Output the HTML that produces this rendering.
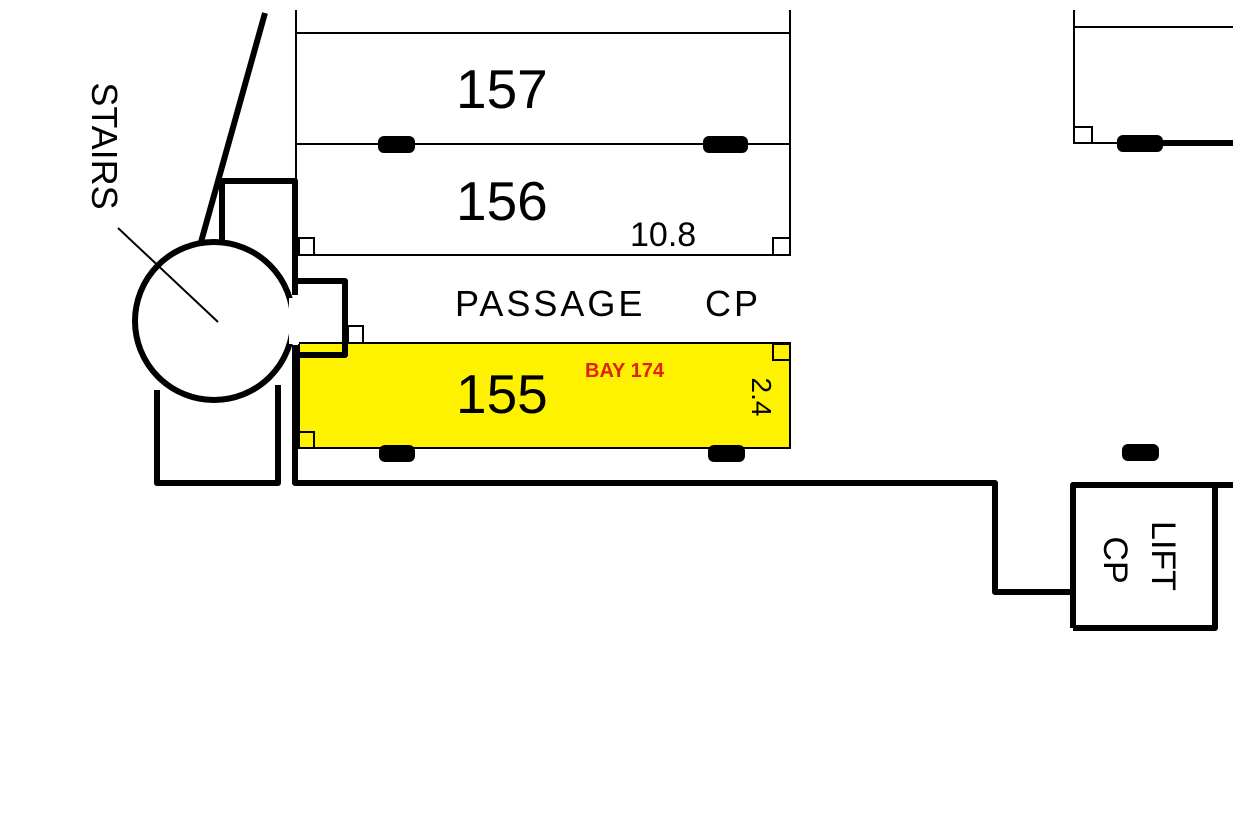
<!DOCTYPE html>
<html><head><meta charset="utf-8"><style>
html,body{margin:0;padding:0;background:#fff;}
svg{display:block;}
text{font-family:"Liberation Sans",sans-serif;}
</style></head><body>
<svg width="1233" height="829" viewBox="0 0 1233 829" xmlns="http://www.w3.org/2000/svg">
<rect width="1233" height="829" fill="#fff"/>
<!-- yellow bay -->
<rect x="299" y="343" width="491" height="105" fill="#fff200" stroke="#000" stroke-width="2"/>
<!-- thin bay lines -->
<g stroke="#000" stroke-width="2" fill="none">
<line x1="296" y1="10" x2="296" y2="256"/>
<line x1="790" y1="10" x2="790" y2="256"/>
<line x1="296" y1="33" x2="790" y2="33"/>
<line x1="296" y1="144" x2="790" y2="144"/>
<line x1="296" y1="255" x2="790" y2="255"/>
<rect x="299" y="238" width="15" height="17"/>
<rect x="773" y="238" width="17" height="17"/>
<rect x="348" y="326" width="15" height="17"/>
<rect x="773" y="344" width="17" height="16"/>
<rect x="299" y="432" width="15" height="16"/>
<line x1="1074" y1="10" x2="1074" y2="143"/>
<line x1="1074" y1="27" x2="1233" y2="27"/>
<rect x="1074" y="127" width="18" height="16"/>
<line x1="1092" y1="143" x2="1120" y2="143"/>
</g>
<!-- marks -->
<g fill="#000">
<rect x="378" y="136" width="37" height="17" rx="6"/>
<rect x="703" y="136" width="45" height="17" rx="6"/>
<rect x="379" y="445" width="36" height="17" rx="6"/>
<rect x="708" y="445" width="37" height="17" rx="6"/>
<rect x="1117" y="135" width="46" height="17" rx="6"/>
<rect x="1122" y="444" width="37" height="17" rx="6"/>
</g>
<!-- thick walls -->
<g stroke="#000" stroke-width="6" fill="none" stroke-linejoin="round">
<line x1="1160" y1="143" x2="1233" y2="143"/>
<line x1="265" y1="13" x2="201" y2="242"/>
<polyline points="222,242 222,181 295,181 295,295"/>
<polyline points="295,345 295,483 995,483 995,592 1073,592"/>
<circle cx="214" cy="321" r="79"/>
<polyline points="157,390 157,483 278,483 278,385"/>
<polyline points="297,281 345,281 345,355 297,355"/>
<polyline points="1073,628 1073,485 1233,485"/>
<polyline points="1073,628 1215,628 1215,485"/>
</g>
<!-- gaps in circle -->
<rect x="289" y="298" width="10" height="46" fill="#fff"/>
<line x1="118" y1="228" x2="218" y2="322" stroke="#000" stroke-width="2"/>
<!-- text -->
<text x="456" y="108" font-size="55">157</text>
<text x="456" y="220" font-size="55">156</text>
<text x="456" y="413" font-size="55">155</text>
<text x="630" y="246" font-size="34">10.8</text>
<text x="455" y="316" font-size="36" letter-spacing="3">PASSAGE</text>
<text x="705" y="316" font-size="36" letter-spacing="3">CP</text>
<text x="585" y="377" font-size="20" font-weight="bold" fill="#e02010">BAY 174</text>
<text transform="translate(752,397) rotate(90)" font-size="28" text-anchor="middle">2.4</text>
<text transform="translate(92,146) rotate(90)" font-size="36" text-anchor="middle">STAIRS</text>
<text transform="translate(1152,556) rotate(90)" font-size="34" text-anchor="middle">LIFT</text>
<text transform="translate(1104,560) rotate(90)" font-size="34" text-anchor="middle">CP</text>
</svg>
</body></html>
